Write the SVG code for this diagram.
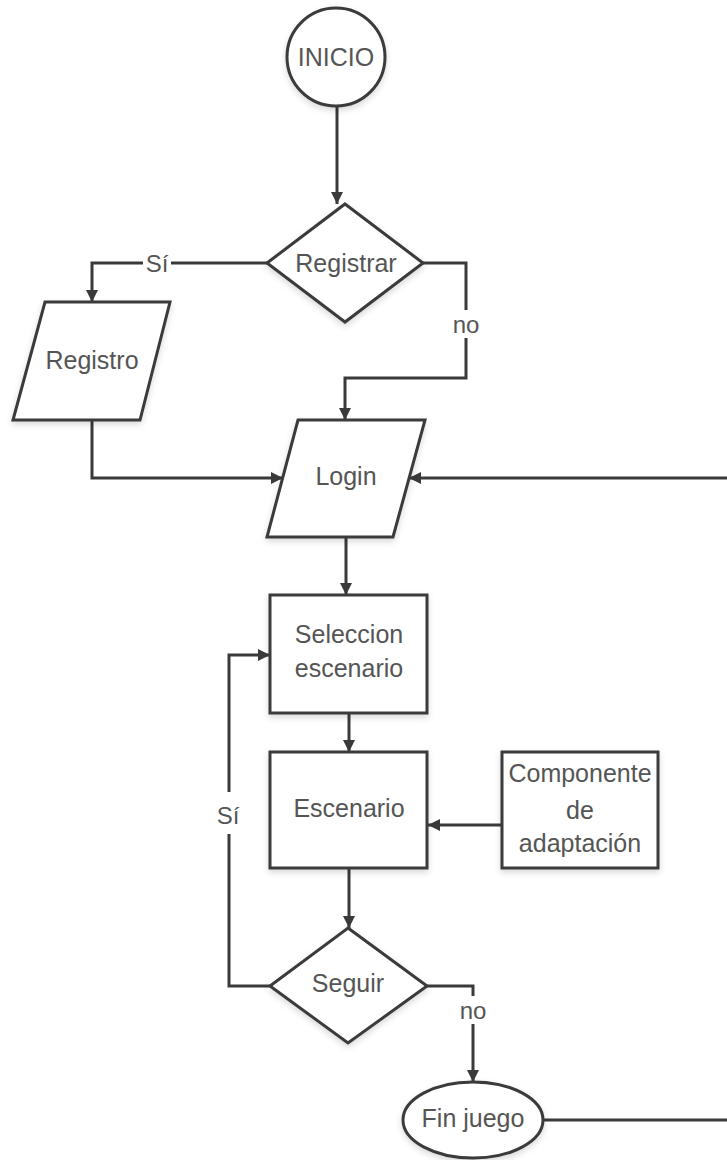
<svg xmlns="http://www.w3.org/2000/svg" width="727" height="1160" viewBox="0 0 727 1160">
  <style>
    .shape { fill: #ffffff; stroke: #3a3a3a; stroke-width: 3; filter: url(#shadow); }
    .txt { font-family: "Liberation Sans", Arial, sans-serif; font-size: 25px; fill: #555555; text-anchor: middle; dominant-baseline: central; }
    .lbl { font-family: "Liberation Sans", Arial, sans-serif; font-size: 24px; fill: #555555; text-anchor: middle; dominant-baseline: central; }
    .conn { fill: none; stroke: #3a3a3a; stroke-width: 3; }
    .arrow { marker-end: url(#head); }
  </style>
  <defs>
    <marker id="head" viewBox="0 0 12 12" refX="12" refY="6" markerWidth="12" markerHeight="12" markerUnits="userSpaceOnUse" orient="auto">
      <path d="M0,0 L12,6 L0,12 z" fill="#3a3a3a"/>
    </marker>
    <filter id="shadow" x="-20%" y="-20%" width="140%" height="150%">
      <feDropShadow dx="0" dy="3" stdDeviation="3" flood-color="#000000" flood-opacity="0.15"/>
    </filter>
  </defs>
  <rect width="727" height="1160" fill="#ffffff"/>

  <!-- connectors -->
  <g id="connectors">
    <path class="conn arrow" d="M337 106 V204"/>
    <path class="conn arrow" d="M267 263 H92 V302"/>
    <path class="conn arrow" d="M423 263 H466 V378 H345 V420"/>
    <path class="conn arrow" d="M92 420 V478 H283"/>
    <path class="conn arrow" d="M543 1120 H740 V478 H409"/>
    <path class="conn arrow" d="M346 537 V595"/>
    <path class="conn arrow" d="M349 713 V752"/>
    <path class="conn arrow" d="M502 825 H428"/>
    <path class="conn arrow" d="M349 868 V928"/>
    <path class="conn arrow" d="M270 986 H229 V655 H270"/>
    <path class="conn arrow" d="M427 986 H473 V1082"/>
    <!-- branch labels -->
    <rect x="143" y="250" width="28" height="26" fill="#ffffff"/>
    <text class="lbl" x="157" y="263">Sí</text>
    <rect x="452" y="310" width="28" height="28" fill="#ffffff"/>
    <text class="lbl" x="466" y="324">no</text>
    <rect x="214" y="792" width="28" height="42" fill="#ffffff"/>
    <text class="lbl" x="228" y="815">Sí</text>
    <rect x="459" y="996" width="28" height="28" fill="#ffffff"/>
    <text class="lbl" x="473" y="1010">no</text>
  </g>

  <g id="inicio">
    <circle class="shape" cx="336" cy="57" r="49"/>
    <text class="txt" x="336" y="57">INICIO</text>
  </g>

  <g id="registrar">
    <polygon class="shape" points="345,204 423,263 345,322 267,263"/>
    <text class="txt" x="346" y="263">Registrar</text>
  </g>

  <g id="registro">
    <polygon class="shape" points="45,302 170,302 140,420 13,420"/>
    <text class="txt" x="92" y="360">Registro</text>
  </g>

  <g id="login">
    <polygon class="shape" points="298,420 425,420 393,537 267,537"/>
    <text class="txt" x="346" y="476">Login</text>
  </g>

  <g id="seleccion">
    <rect class="shape" x="270" y="595" width="157" height="118"/>
    <text class="txt" x="349" y="634">Seleccion</text>
    <text class="txt" x="349" y="668">escenario</text>
  </g>

  <g id="escenario">
    <rect class="shape" x="270" y="752" width="157" height="116"/>
    <text class="txt" x="349" y="808">Escenario</text>
  </g>

  <g id="componente">
    <rect class="shape" x="502" y="752" width="156" height="116"/>
    <text class="txt" x="580" y="773">Componente</text>
    <text class="txt" x="580" y="810">de</text>
    <text class="txt" x="580" y="843">adaptación</text>
  </g>

  <g id="seguir">
    <polygon class="shape" points="348,928 427,986 348,1043 270,986"/>
    <text class="txt" x="348" y="983">Seguir</text>
  </g>

  <g id="fin">
    <ellipse class="shape" cx="473" cy="1120" rx="70" ry="38"/>
    <text class="txt" x="473" y="1118">Fin juego</text>
  </g>
</svg>
